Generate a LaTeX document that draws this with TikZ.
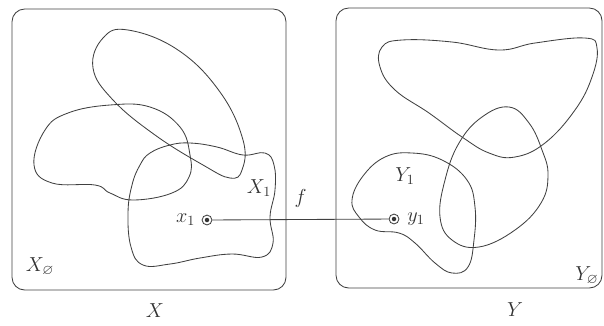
\documentclass[tikz,border=0pt]{standalone}
\usepackage{amssymb}
\usetikzlibrary{positioning}
\begin{document}
\begin{tikzpicture}[x=0.025cm,y=-0.025cm,line width=0.6pt,draw=black!75]
\tikzset{blob/.style={draw=black!70,smooth cycle,tension=0.7},
  pnt/.style={circle,draw=black!75,inner sep=0pt,minimum size=7pt},
  lbl/.style={font=\Large,text=black!80}}
\useasboundingbox (0,0) rectangle (604,325);
\draw[rounded corners=9] (12,9) rectangle (286,290);
\draw[rounded corners=9] (336,8) rectangle (602,288);
\node[lbl] (X) at (155,311) {$X$};
\node[lbl] (Y) at (515,310) {$Y$};
\node[lbl] (X0) at (40,267) {$X_{\varnothing}$};
\node[lbl] (Y0) at (587,276) {$Y_{\varnothing}$};

% left blobs
\draw plot[blob] coordinates {(93,68) (103,38) (128,30) (178,50) (220,92) (243,140) (242,170) (230,178) (203,165) (155,135) (113,100)};
\draw plot[blob] coordinates {(34,165) (45,130) (68,113) (110,105) (150,107) (180,127) (190,155) (189,177) (172,193) (133,200) (110,193) (95,185) (52,183)};
\draw plot[blob] coordinates {(150,153) (170,145) (190,143) (217,147) (243,155) (265,153) (274,165) (275,190) (270,217) (273,243) (262,257) (232,254) (200,258) (170,264) (143,265) (131,247) (128,213) (132,185) (140,165)};
\node[lbl] (X1) at (259,188) {$X_1$};

% right blobs
\draw plot[blob] coordinates {(382,47) (402,40) (452,42) (499,50) (535,43) (585,38) (597,48) (592,77) (575,110) (545,143) (515,157) (489,153) (462,137) (429,113) (395,90) (380,67)};
\draw plot[blob] coordinates {(509,107) (529,123) (542,150) (548,175) (541,203) (515,230) (479,247) (452,240) (440,217) (445,180) (459,143) (482,117)};
\draw plot[blob] coordinates {(352,200) (363,176) (385,157) (412,153) (442,160) (467,180) (475,207) (474,240) (468,267) (452,273) (435,263) (415,243) (399,233) (375,230) (359,217)};
\node[lbl] (Y1) at (405,176) {$Y_1$};

% points and map
\node[pnt] (px) at (207,220) {};
\node[pnt] (py) at (394,219) {};
\fill[black!80] (px) circle (1.6pt);
\fill[black!80] (py) circle (1.6pt);
\node[lbl,left=1pt of px] (x1) {$x_1$};
\node[lbl,right=2pt of py] (y1) {$y_1$};
\draw (px) -- (py) node[midway,above=5pt,lbl] (f) {$f$};
\end{tikzpicture}
\end{document}
